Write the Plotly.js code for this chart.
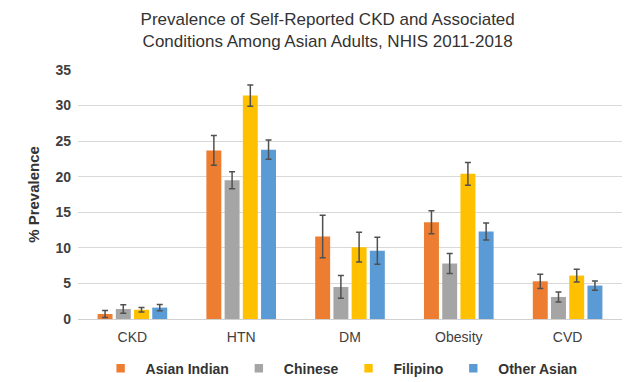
<!DOCTYPE html>
<html>
<head>
<meta charset="utf-8">
<script src="https://cdn.plot.ly/plotly-3.0.1.min.js"></script>
<style>html,body{margin:0;padding:0;background:#fff;}#chart{width:640px;height:382px;}</style>
</head>
<body>
<div id="chart"></div>
<script>
const categories = ["CKD", "HTN", "DM", "Obesity", "CVD"];
const seriesNames = ["Asian Indian", "Chinese", "Filipino", "Other Asian"];
const asianIndian = [0.7, 23.7, 11.6, 13.6, 5.3];
const asianIndianErr = [0.5, 2.1, 3.0, 1.6, 1.0];
const chinese = [1.4, 19.5, 4.5, 7.8, 3.1];
const chineseErr = [0.6, 1.2, 1.6, 1.4, 0.7];
const filipino = [1.3, 31.4, 10.1, 20.4, 6.1];
const filipinoErr = [0.3, 1.5, 2.1, 1.6, 0.9];
const otherAsian = [1.6, 23.8, 9.6, 12.3, 4.7];
const otherAsianErr = [0.45, 1.35, 1.9, 1.2, 0.65];
const yTicks = [0, 5, 10, 15, 20, 25, 30, 35];

const values = [asianIndian, chinese, filipino, otherAsian];
const errs = [asianIndianErr, chineseErr, filipinoErr, otherAsianErr];
const colors = ["#ED7D31", "#A5A5A5", "#FFC000", "#5B9BD5"];

const traces = seriesNames.map((name, i) => ({
  type: "bar",
  name: name,
  x: categories,
  y: values[i],
  marker: {color: colors[i]},
  error_y: {type: "data", array: errs[i], visible: true, color: "#505050", thickness: 1.5, width: 3}
}));

const layout = {
  width: 640, height: 382,
  paper_bgcolor: "#ffffff", plot_bgcolor: "#ffffff",
  margin: {l: 78, r: 18, t: 70, b: 63, autoexpand: false},
  font: {family: "Liberation Sans, Arial, sans-serif", color: "#333333"},
  title: {
    text: "Prevalence of Self-Reported CKD and Associated<br>Conditions Among Asian Adults, NHIS 2011-2018",
    font: {size: 17, color: "#333333", family: "Liberation Sans, Arial, sans-serif"},
    x: 0.512, xanchor: "center", y: 0.935, yanchor: "top", yref: "container"
  },
  barmode: "group",
  bargap: 0.33,
  bargroupgap: 0.18,
  xaxis: {
    tickfont: {size: 14, color: "#404040"},
    showline: false, ticks: "", showgrid: false, ticklabelstandoff: 8
  },
  yaxis: {
    range: [0, 35], tickvals: yTicks, ticktext: yTicks.map(String),
    tickfont: {size: 14, color: "#404040", weight: "bold"},
    gridcolor: "#d9d9d9", gridwidth: 1,
    zeroline: true, zerolinecolor: "#d0d0d0", zerolinewidth: 1,
    showline: false, ticks: "", ticklabelstandoff: 6,
    title: {text: "<b>% Prevalence</b>", font: {size: 15, color: "#333333"}, standoff: 12}
  },
  legend: {
    orientation: "h", x: 0.48, xanchor: "center", xref: "paper",
    y: 0.035, yanchor: "middle", yref: "container",
    font: {size: 14, color: "#333333", weight: "bold"},
    traceorder: "normal", itemwidth: 40
  },
  showlegend: true
};

Plotly.newPlot("chart", traces, layout, {displayModeBar: false, staticPlot: true}).then(gd => {
  gd.querySelectorAll(".legendpoints path").forEach(p => {
    const t = p.getAttribute("transform") || "";
    p.setAttribute("transform", t + " scale(0.7)");
  });
});
</script>
</body>
</html>
